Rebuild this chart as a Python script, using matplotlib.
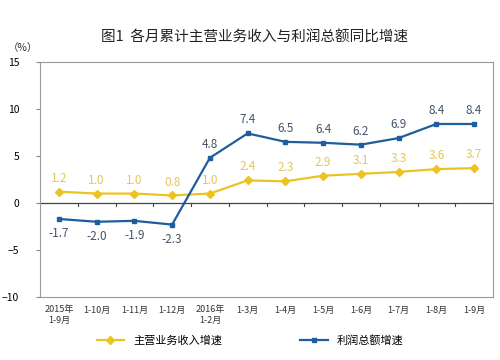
import matplotlib.pyplot as plt
from matplotlib.lines import Line2D

plt.rcParams['font.family'] = ['Noto Sans CJK SC', 'DejaVu Sans']

months = ["2015年\n1-9月", "1-10月", "1-11月", "1-12月", "2016年\n1-2月", "1-3月",
          "1-4月", "1-5月", "1-6月", "1-7月", "1-8月", "1-9月"]
revenue = [1.2, 1.0, 1.0, 0.8, 1.0, 2.4, 2.3, 2.9, 3.1, 3.3, 3.6, 3.7]
profit = [-1.7, -2.0, -1.9, -2.3, 4.8, 7.4, 6.5, 6.4, 6.2, 6.9, 8.4, 8.4]
series_names = ["主营业务收入增速", "利润总额增速"]

YELLOW = "#EDC323"
BLUE = "#1F5E9E"

fig = plt.figure(figsize=(5, 3.6), dpi=100)
ax = fig.add_axes([0.08, 0.175, 0.906, 0.653])

x = list(range(len(months)))
ax.plot(x, revenue, color=YELLOW, lw=1.6, marker="D", ms=4)
ax.plot(x, profit, color=BLUE, lw=1.6, marker="s", ms=3.5)

for xi, v in zip(x, revenue):
    ax.annotate(f"{v:.1f}", (xi, v), xytext=(0, 5), textcoords="offset points",
                ha="center", va="bottom", fontsize=8.5, color="#E3C75A")
for xi, v in zip(x, profit):
    off = 5 if v >= 0 else -6
    ax.annotate(f"{v:.1f}", (xi, v), xytext=(0, off), textcoords="offset points",
                ha="center", va="bottom" if v >= 0 else "top", fontsize=8.5,
                color="#44546A")

ax.set_xlim(-0.5, len(months) - 0.5)
ax.set_ylim(-10, 15)
ax.set_yticks([-10, -5, 0, 5, 10, 15])
ax.tick_params(axis="y", labelsize=7.5, length=3, color="#888888", pad=12)
ax.set_xticks([])

# zero line with ticks between categories
ax.axhline(0, color="#444444", lw=0.9)
for b in range(1, len(months)):
    ax.plot([b - 0.5, b - 0.5], [0, -0.35], color="#444444", lw=0.8)

for s in ax.spines.values():
    s.set_color("#9A9A9A")
    s.set_linewidth(0.8)

for xi, lab in zip(x, months):
    ax.text(xi, -10.9, lab, ha="center", va="top", fontsize=6.5, color="#333333")

fig.text(0.51, 0.895, "图1  各月累计主营业务收入与利润总额同比增速", ha="center",
         va="center", fontsize=10.5, color="#222222")
fig.text(0.045, 0.868, "（%）", ha="center", va="center", fontsize=7.5, color="#333333")

handles = [Line2D([], [], color=YELLOW, lw=1.6, marker="D", ms=4),
           Line2D([], [], color=BLUE, lw=1.6, marker="s", ms=3.5)]
fig.legend(handles, series_names, loc="center", bbox_to_anchor=(0.5, 0.055), ncol=2,
           frameon=False, fontsize=8, columnspacing=7, handlelength=2.5)

fig.savefig("out.png", dpi=100)
